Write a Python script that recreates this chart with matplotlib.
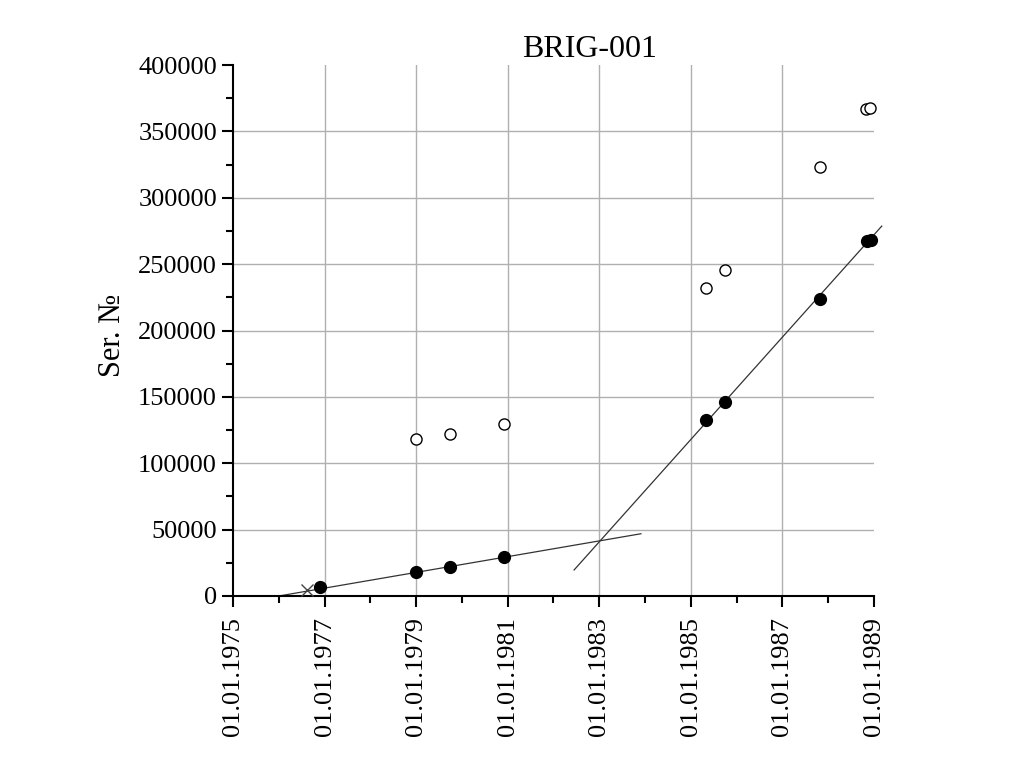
import numpy as np
import matplotlib.pyplot as plt

plt.rcParams['font.family'] = ['Liberation Serif', 'DejaVu Serif']

# filled points (decimal year, serial)
filled_x = [1976.90, 1979.00, 1979.74, 1980.92, 1985.33, 1985.74, 1987.82, 1988.84, 1988.93]
filled_y = [6800, 18000, 21800, 29500, 132500, 146000, 223500, 267500, 268000]

# open points
open_x = [1979.00, 1979.74, 1980.92, 1985.33, 1985.74, 1987.82, 1988.82, 1988.91]
open_y = [118000, 122000, 129500, 232000, 245500, 323000, 367000, 367500]

cross_x = [1976.62]
cross_y = [4500]

# fitted lines (endpoints)
fit1_x = [1976.0, 1983.91]
fit1_y = [0, 46900]
fit2_x = [1982.45, 1989.17]
fit2_y = [19600, 278700]

xticks = [1975, 1977, 1979, 1981, 1983, 1985, 1987, 1989]
xlabels = ["01.01.1975", "01.01.1977", "01.01.1979", "01.01.1981",
           "01.01.1983", "01.01.1985", "01.01.1987", "01.01.1989"]
yticks = [0, 50000, 100000, 150000, 200000, 250000, 300000, 350000, 400000]

fig = plt.figure(figsize=(10.24, 7.84), dpi=100)
ax = fig.add_axes([0.2275, 0.2398, 0.6260, 0.6772])

ax.plot(fit1_x, fit1_y, color='#333333', lw=0.9, zorder=2)
ax.plot(fit2_x, fit2_y, color='#333333', lw=0.9, zorder=2, clip_on=False)
ax.plot(open_x, open_y, 'o', ms=8, mfc='white', mec='black', mew=1.0, zorder=3, clip_on=False)
ax.plot(filled_x, filled_y, 'o', ms=8.5, color='black', zorder=4, clip_on=False)
ax.plot(cross_x, cross_y, 'x', ms=9, color='#444444', mew=1.0, zorder=3)

ax.set_xlim(1975, 1989)
ax.set_ylim(0, 400000)
ax.set_xticks(xticks)
ax.set_xticklabels(xlabels, rotation=90)
ax.set_xticks(np.arange(1976, 1989, 2), minor=True)
ax.set_yticks(yticks)
ax.set_yticklabels([str(v) for v in yticks])
ax.set_yticks(np.arange(25000, 400000, 50000), minor=True)

ax.grid(True, which='major', color='#b0b0b0', lw=1.0, zorder=0)
ax.set_axisbelow(True)
ax.xaxis.get_major_ticks()[0].gridline.set_visible(False)
ax.xaxis.get_major_ticks()[-1].gridline.set_visible(False)
ax.yaxis.get_major_ticks()[0].gridline.set_visible(False)
ax.yaxis.get_major_ticks()[-1].gridline.set_visible(False)

ax.spines['top'].set_visible(False)
ax.spines['right'].set_visible(False)
ax.spines['left'].set_linewidth(1.5)
ax.spines['bottom'].set_linewidth(1.5)
ax.tick_params(which='major', direction='out', length=8, width=1.5, labelsize=19)
ax.tick_params(axis='x', which='major', pad=7)
ax.tick_params(which='minor', direction='out', length=5, width=1.5)

fig.text(0.576, 0.927, "BRIG-001", fontsize=23, ha='center', va='baseline')
ax.set_ylabel("Ser. №", fontsize=22)
ax.yaxis.set_label_coords(-0.166, 0.49)

plt.savefig("out.png", dpi=100)
